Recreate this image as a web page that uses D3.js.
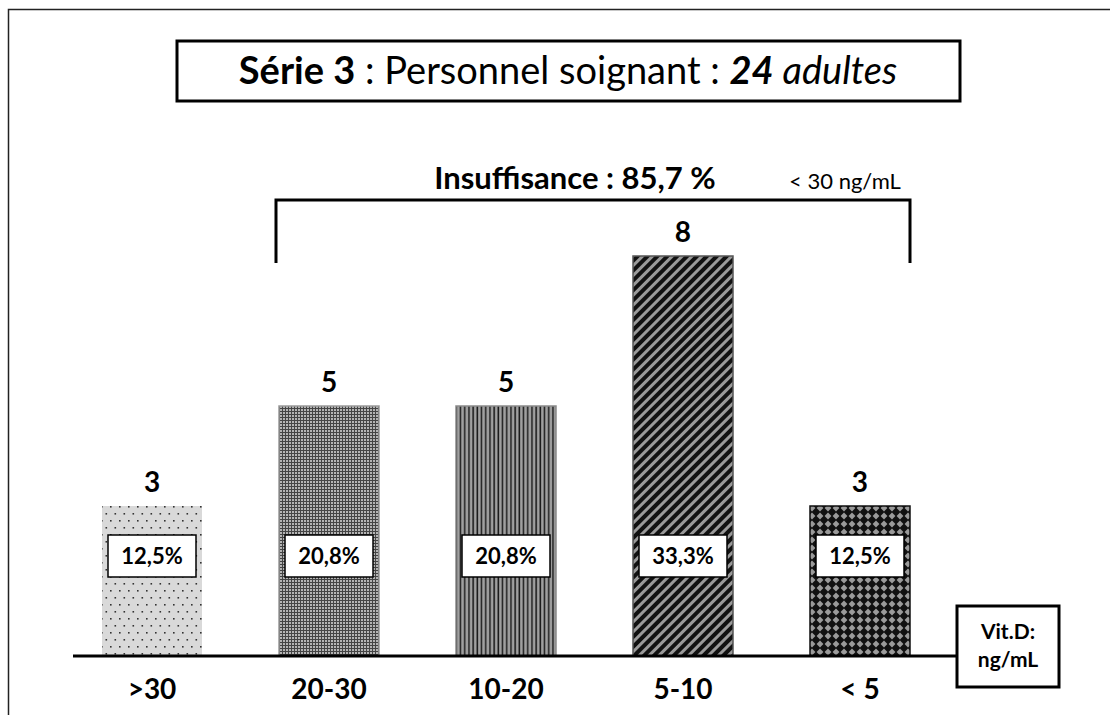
<!DOCTYPE html>
<html lang="fr">
<head>
<meta charset="utf-8">
<script src="https://cdn.jsdelivr.net/npm/d3@7/dist/d3.min.js"></script>
<style>
    html, body { margin: 0; padding: 0; background: #fff; }
    svg { display: block; font-family: Lato, "Open Sans", "Liberation Sans", sans-serif; }
</style>
</head>
<body>
<div id="chart"></div>
<script>
const categories = ['>30', '20-30', '10-20', '5-10', '< 5'];
const counts = [3, 5, 5, 8, 3];
const percentLabels = ['12,5%', '20,8%', '20,8%', '33,3%', '12,5%'];
const patternIds = ['dots', 'fine', 'vstripes', 'diag', 'diamonds'];

const width = 1110;
const height = 715;

const svg = d3.select('#chart').append('svg')
    .attr('width', width)
    .attr('height', height);

const defs = svg.append('defs');

// light grey with sparse dots
const dots = defs.append('pattern').attr('id', 'dots')
    .attr('patternUnits', 'userSpaceOnUse').attr('width', 9).attr('height', 14);
dots.append('rect').attr('width', 9).attr('height', 14).attr('fill', '#d9d9d9');
dots.append('rect').attr('x', 2).attr('y', 2).attr('width', 1.6).attr('height', 1.6).attr('fill', '#333');
dots.append('rect').attr('x', 6.5).attr('y', 9).attr('width', 1.6).attr('height', 1.6).attr('fill', '#333');

// fine woven grey
const fine = defs.append('pattern').attr('id', 'fine')
    .attr('patternUnits', 'userSpaceOnUse').attr('width', 3).attr('height', 3);
fine.append('rect').attr('width', 3).attr('height', 3).attr('fill', '#b4b4b4');
fine.append('rect').attr('width', 3).attr('height', 1).attr('fill', '#444');
fine.append('rect').attr('width', 1).attr('height', 3).attr('fill', '#444');

// vertical stripes
const vstripes = defs.append('pattern').attr('id', 'vstripes')
    .attr('patternUnits', 'userSpaceOnUse').attr('width', 4.2).attr('height', 4);
vstripes.append('rect').attr('width', 4.2).attr('height', 4).attr('fill', '#a0a0a0');
vstripes.append('rect').attr('x', 2).attr('width', 1.5).attr('height', 4).attr('fill', '#1a1a1a');

// diagonal stripes
const diag = defs.append('pattern').attr('id', 'diag')
    .attr('patternUnits', 'userSpaceOnUse').attr('width', 7).attr('height', 7)
    .attr('patternTransform', 'rotate(45)');
diag.append('rect').attr('width', 7).attr('height', 7).attr('fill', '#9a9a9a');
diag.append('rect').attr('width', 4).attr('height', 7).attr('fill', '#111');

// black with grey diamonds
const diamonds = defs.append('pattern').attr('id', 'diamonds')
    .attr('patternUnits', 'userSpaceOnUse').attr('width', 8).attr('height', 8);
diamonds.append('rect').attr('width', 8).attr('height', 8).attr('fill', '#111');
diamonds.append('path').attr('d', 'M4,0.6 L7.4,4 L4,7.4 L0.6,4 Z').attr('fill', '#9a9a9a');

const barStroke = ['none', '#9a9a9a', '#8a8a8a', '#555', '#111'];

const xScale = d3.scaleBand()
    .domain(categories)
    .range([102, 910])
    .paddingInner(0.435)
    .paddingOuter(0);

const yScale = d3.scaleLinear()
    .domain([0, 8])
    .range([656, 256]);

// outer frame
svg.append('rect')
    .attr('x', 8.5).attr('y', 9.5)
    .attr('width', width).attr('height', height)
    .attr('fill', 'none').attr('stroke', '#222').attr('stroke-width', 1.5);

// title box
svg.append('rect')
    .attr('x', 177).attr('y', 41)
    .attr('width', 783).attr('height', 60)
    .attr('fill', '#fff').attr('stroke', '#000').attr('stroke-width', 3);

const title = svg.append('text')
    .attr('x', 568).attr('y', 84)
    .attr('text-anchor', 'middle')
    .attr('font-size', 38)
    .attr('fill', '#000');
title.append('tspan').attr('font-weight', 700).text('Série 3');
title.append('tspan').text(' : Personnel soignant : ');
title.append('tspan').attr('font-weight', 700).attr('font-style', 'italic').text('24');
title.append('tspan').attr('font-style', 'italic').text(' adultes');

// bracket over the insufficient groups
const bracketLeft = xScale('20-30') - 3;
const bracketRight = xScale('< 5') + xScale.bandwidth();
const bracketTop = 200;
const bracketBottom = yScale(8) + 7;

svg.append('path')
    .attr('d', `M${bracketLeft},${bracketBottom} V${bracketTop} H${bracketRight} V${bracketBottom}`)
    .attr('fill', 'none').attr('stroke', '#000').attr('stroke-width', 3);

svg.append('text')
    .attr('x', 575).attr('y', 189)
    .attr('text-anchor', 'middle')
    .attr('font-size', 31).attr('font-weight', 700)
    .text('Insuffisance : 85,7 %');

svg.append('text')
    .attr('x', 845).attr('y', 189)
    .attr('text-anchor', 'middle')
    .attr('font-size', 22)
    .text('< 30 ng/mL');

// bars
const bars = svg.append('g');
bars.selectAll('rect')
    .data(categories)
    .enter()
    .append('rect')
    .attr('x', (d) => xScale(d))
    .attr('y', (d, i) => yScale(counts[i]))
    .attr('width', xScale.bandwidth())
    .attr('height', (d, i) => yScale(0) - yScale(counts[i]))
    .attr('fill', (d, i) => `url(#${patternIds[i]})`)
    .attr('stroke', (d, i) => barStroke[i])
    .attr('stroke-width', 1.5);

// counts above bars
svg.append('g').selectAll('text')
    .data(categories)
    .enter()
    .append('text')
    .attr('x', (d) => xScale(d) + xScale.bandwidth() / 2)
    .attr('y', (d, i) => yScale(counts[i]) - 14)
    .attr('text-anchor', 'middle')
    .attr('font-size', 28).attr('font-weight', 700)
    .text((d, i) => counts[i]);

// percentage boxes
const boxW = 88;
const boxH = 42;
const boxCenterY = yScale(0) - 100;
const pct = svg.append('g').selectAll('g')
    .data(categories)
    .enter()
    .append('g')
    .attr('transform', (d) => `translate(${xScale(d) + xScale.bandwidth() / 2},${boxCenterY})`);
pct.append('rect')
    .attr('x', -boxW / 2).attr('y', -boxH / 2)
    .attr('width', boxW).attr('height', boxH)
    .attr('fill', '#fff').attr('stroke', '#000').attr('stroke-width', 1.5);
pct.append('text')
    .attr('y', 8)
    .attr('text-anchor', 'middle')
    .attr('font-size', 22).attr('font-weight', 700)
    .text((d, i) => percentLabels[i]);

// baseline axis
const axis = svg.append('g')
    .attr('transform', `translate(0,${yScale(0)})`)
    .call(d3.axisBottom(xScale).tickSize(0).tickPadding(23))
    .call((g) => g.select('.domain').remove());
axis.selectAll('text')
    .attr('font-family', 'Lato, "Open Sans", sans-serif')
    .attr('font-size', 28).attr('font-weight', 700).attr('fill', '#000')
    .attr('dy', '0.71em');

svg.append('line')
    .attr('x1', 73).attr('x2', 957)
    .attr('y1', yScale(0)).attr('y2', yScale(0))
    .attr('stroke', '#000').attr('stroke-width', 3);

// unit box
svg.append('rect')
    .attr('x', 957).attr('y', 606)
    .attr('width', 102).attr('height', 81)
    .attr('fill', '#fff').attr('stroke', '#000').attr('stroke-width', 3);
svg.append('text')
    .attr('x', 1008).attr('y', 639)
    .attr('text-anchor', 'middle')
    .attr('font-size', 21).attr('font-weight', 700)
    .text('Vit.D:');
svg.append('text')
    .attr('x', 1008).attr('y', 667)
    .attr('text-anchor', 'middle')
    .attr('font-size', 21).attr('font-weight', 700)
    .text('ng/mL');
</script>
</body>
</html>
